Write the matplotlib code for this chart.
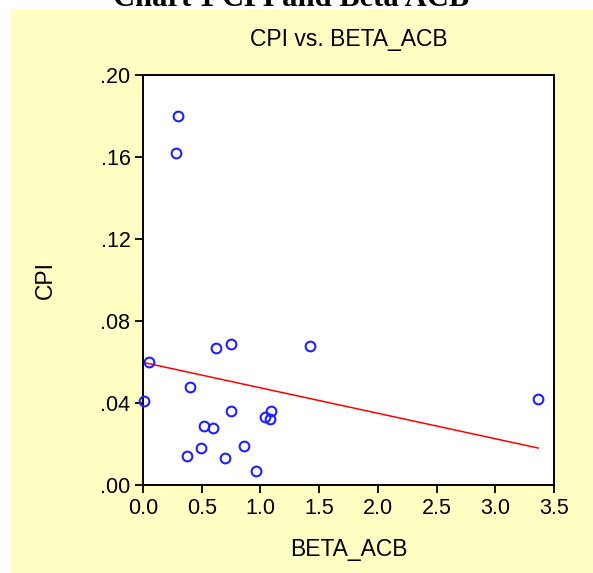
import numpy as np
import matplotlib
matplotlib.use("Agg")
import matplotlib.pyplot as plt
from matplotlib.patches import Rectangle

# Data
beta_acb = [0.30, 0.28, 0.05, 0.01, 0.40, 0.62, 0.75, 1.42, 3.365, 0.75,
            0.52, 0.60, 1.04, 1.08, 1.09, 0.375, 0.49, 0.86, 0.70, 0.96]
cpi = [0.180, 0.162, 0.060, 0.041, 0.048, 0.067, 0.069, 0.068, 0.042, 0.036,
       0.029, 0.028, 0.033, 0.032, 0.036, 0.014, 0.018, 0.019, 0.013, 0.007]

x_ticks = [0.0, 0.5, 1.0, 1.5, 2.0, 2.5, 3.0, 3.5]
x_tick_labels = ["0.0", "0.5", "1.0", "1.5", "2.0", "2.5", "3.0", "3.5"]
y_ticks = [0.00, 0.04, 0.08, 0.12, 0.16, 0.20]
y_tick_labels = [".00", ".04", ".08", ".12", ".16", ".20"]

W, H = 593, 573
fig = plt.figure(figsize=(W / 100, H / 100), dpi=100)
fig.patch.set_facecolor("white")

# yellow panel
fig.add_artist(Rectangle((11 / W, 0), 1 - 11 / W, (H - 9) / H,
                         transform=fig.transFigure, facecolor="#FFFFC4",
                         edgecolor="none", zorder=0))

# clipped document title
fig.text(0.5 - 5 / W, 1 - 6.5 / H, "Chart 1 CPI and Beta ACB",
         ha="center", va="baseline", fontsize=22, fontweight="bold",
         family="Liberation Serif", color="black")

ax = fig.add_axes([143 / W, (H - 485) / H, (554 - 143) / W, (485 - 75) / H])
ax.set_facecolor("white")

x = np.array(beta_acb)
y = np.array(cpi)
ax.plot(x, y, linestyle="none", marker="o", markersize=7,
        markerfacecolor="none", markeredgecolor="#2020FF",
        markeredgewidth=1.5, zorder=3, clip_on=False)

# fitted regression line
b, a = np.polyfit(x, y, 1)
xl = np.array([x.min(), x.max()])
ax.plot(xl, a + b * xl, color="#FF0000", linewidth=1.1, zorder=2)

ax.set_xlim(0, 3.5)
ax.set_ylim(0, 0.20)
ax.set_xticks(x_ticks)
ax.set_xticklabels(x_tick_labels)
ax.set_yticks(y_ticks)
ax.set_yticklabels(y_tick_labels)

for s in ax.spines.values():
    s.set_linewidth(1.4)
    s.set_color("black")
ax.tick_params(axis="both", direction="out", length=6, width=1.3,
               labelsize=15.5, colors="black", pad=3)
for lab in ax.get_xticklabels() + ax.get_yticklabels():
    lab.set_family("Liberation Sans")

ax.set_title("CPI vs. BETA_ACB", fontsize=16.5, family="Liberation Sans",
             pad=21, x=(349 - 143) / (554 - 143))
ax.set_xlabel("BETA_ACB", fontsize=16.5, family="Liberation Sans", labelpad=14)
ax.set_ylabel("CPI", fontsize=16.5, family="Liberation Sans", labelpad=31)

fig.savefig("out.png", dpi=100, facecolor=fig.get_facecolor())
